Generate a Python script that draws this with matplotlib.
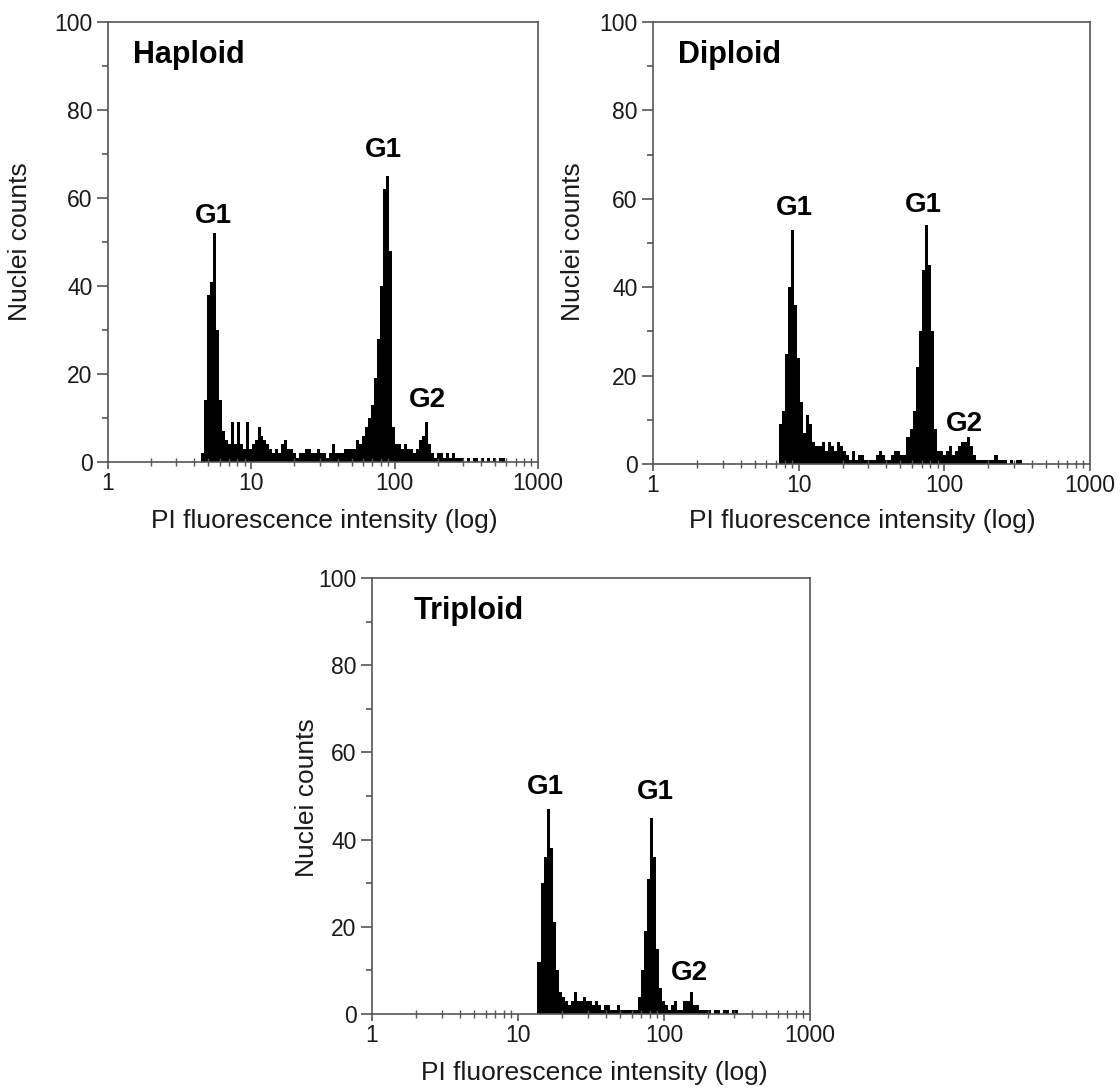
import numpy as np
import matplotlib.pyplot as plt
from matplotlib.ticker import LogLocator, NullFormatter

plt.rcParams['font.family'] = ['Liberation Sans', 'DejaVu Sans']

# histogram channels: 48 per decade, counts
BINS_PER_DECADE = 48

haploid_start = 4.44
haploid_counts = [
    2, 14, 38, 41, 52, 30, 14, 7, 5, 4,
    9, 4, 9, 4, 3, 9, 3, 4, 5, 8,
    6, 5, 4, 3, 2, 3, 2, 4, 5, 3,
    3, 2, 1, 2, 2, 3, 3, 2, 2, 3,
    2, 2, 1, 2, 4, 2, 2, 2, 3, 3,
    3, 3, 5, 4, 6, 8, 10, 13, 19, 28,
    40, 62, 65, 48, 8, 4, 4, 3, 4, 3,
    3, 2, 3, 5, 6, 9, 4, 2, 1, 2,
    2, 1, 2, 1, 2, 1, 1, 1, 0, 1,
    0, 1, 1, 0, 1, 0, 1, 0, 1, 0,
    1, 1,
]

diploid_start = 7.33
diploid_counts = [
    9, 12, 25, 40, 53, 36, 24, 14, 7, 11,
    9, 5, 4, 4, 5, 3, 5, 4, 3, 5,
    4, 3, 2, 1, 3, 1, 2, 2, 1, 1,
    1, 1, 2, 3, 2, 1, 1, 2, 3, 3,
    2, 2, 6, 8, 12, 22, 30, 44, 54, 45,
    30, 8, 3, 3, 2, 3, 4, 2, 3, 4,
    5, 5, 6, 4, 2, 1, 1, 1, 1, 1,
    1, 2, 1, 1, 1, 0, 1, 0, 1, 1,
]

triploid_start = 13.6
triploid_counts = [
    12, 30, 36, 47, 38, 21, 10, 5, 4, 3,
    2, 3, 5, 3, 3, 4, 3, 3, 2, 3,
    2, 1, 2, 2, 1, 1, 2, 1, 1, 1,
    1, 1, 1, 4, 10, 19, 31, 45, 36, 15,
    6, 3, 2, 1, 2, 3, 1, 1, 3, 3,
    5, 2, 2, 1, 1, 1, 1, 0, 1, 1,
    0, 1, 1, 0, 1, 1,
]

# phase labels: (text, x, y)
haploid_peaks = [("G1", 5.4, 56), ("G1", 83, 71), ("G2", 168, 14)]
diploid_peaks = [("G1", 9.4, 58), ("G1", 72, 58.5), ("G2", 137, 9)]
triploid_peaks = [("G1", 15.5, 52), ("G1", 87, 51), ("G2", 150, 9.5)]

W, H = 1120, 1090
fig = plt.figure(figsize=(W / 100, H / 100), dpi=100)

AXIS_GREY = "#555555"
TEXT = "#1a1a1a"


def px_rect(left, top, right, bottom):
    return [left / W, 1 - bottom / H, (right - left) / W, (bottom - top) / H]


def draw_panel(rect, start, counts, title, peaks, title_x):
    ax = fig.add_axes(rect)
    edges = start * 10 ** (np.arange(len(counts) + 1) / BINS_PER_DECADE)
    ax.stairs(counts, edges, fill=True, color="black", linewidth=0)

    ax.set_xscale("log")
    ax.set_xlim(1, 1000)
    ax.set_ylim(0, 100)
    ax.set_xticks([1, 10, 100, 1000], ["1", "10", "100", "1000"])
    ax.xaxis.set_minor_locator(LogLocator(base=10, subs=range(2, 10)))
    ax.xaxis.set_minor_formatter(NullFormatter())
    ax.set_yticks(range(0, 101, 20))
    ax.set_yticks(range(10, 100, 20), minor=True)

    for s in ax.spines.values():
        s.set_color(AXIS_GREY)
        s.set_linewidth(1.2)
    ax.tick_params(axis="y", which="major", direction="out", length=8,
                   width=1.2, color=AXIS_GREY, labelcolor=TEXT,
                   labelsize=16.5, pad=3)
    ax.tick_params(axis="x", which="major", direction="out", length=5,
                   width=1.2, color=AXIS_GREY, labelcolor=TEXT,
                   labelsize=16.5, pad=2)
    ax.tick_params(axis="y", which="minor", direction="out", length=4,
                   width=1.2, color=AXIS_GREY)
    ax.tick_params(axis="x", which="minor", direction="inout", length=6,
                   width=1.0, color=AXIS_GREY)

    ax.text(title_x, 0.925, title, transform=ax.transAxes, ha="left",
            va="center", fontsize=22, fontweight="bold", color="black")
    for txt, x, y in peaks:
        ax.text(x, y, txt, ha="center", va="center", fontsize=20,
                fontweight="bold", color="black")
    return ax


draw_panel(px_rect(108, 22, 538, 462), haploid_start, haploid_counts,
           "Haploid", haploid_peaks, 0.058)
draw_panel(px_rect(653, 22, 1090, 464), diploid_start, diploid_counts,
           "Diploid", diploid_peaks, 0.057)
draw_panel(px_rect(372, 578, 810, 1014), triploid_start, triploid_counts,
           "Triploid", triploid_peaks, 0.094)

xlab = "PI fluorescence intensity (log)"
ylab = "Nuclei counts"
for x, y in [(324, 521), (862, 521), (594, 1073)]:
    fig.text(x / W, 1 - y / H, xlab, ha="center", va="center",
             fontsize=19, color=TEXT)
for x, y in [(20, 242), (573, 242), (307, 798)]:
    fig.text(x / W, 1 - y / H, ylab, ha="center", va="center",
             rotation=90, fontsize=19, color=TEXT)

fig.savefig("out.png", dpi=100, facecolor="white")
